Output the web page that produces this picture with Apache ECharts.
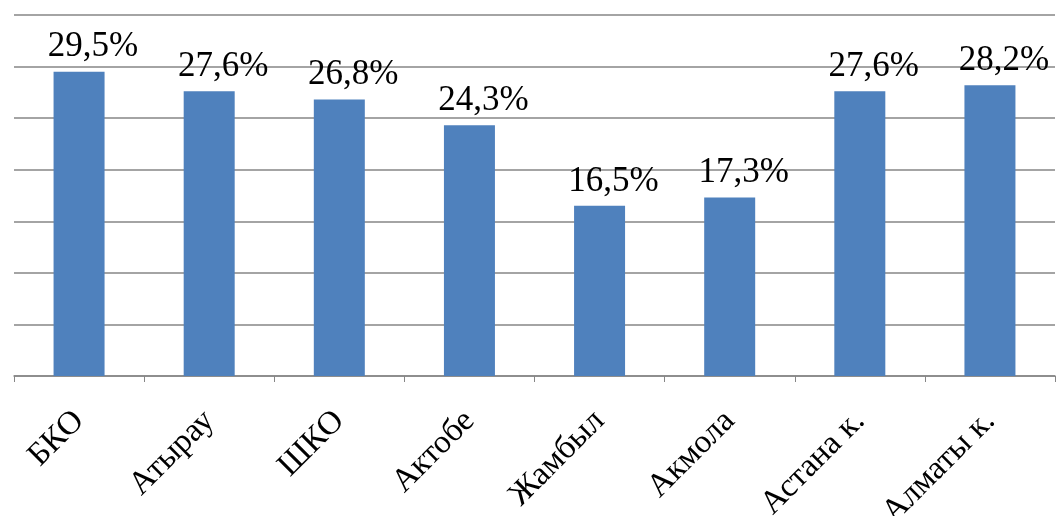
<!DOCTYPE html>
<html><head><meta charset="utf-8">
<script src="https://cdn.jsdelivr.net/npm/echarts@6/dist/echarts.min.js"></script>
<style>html,body{margin:0;padding:0;background:#fff}#c{width:1057px;height:516px}</style>
</head><body><div id="c"></div>
<script>
const categories = ['БКО','Атырау','ШКО','Актобе','Жамбыл','Акмола','Астана к.','Алматы к.'];
const values = [29.5, 27.6, 26.8, 24.3, 16.5, 17.3, 27.6, 28.2];
const yMin = 0, yMax = 35, yStep = 5;

const chart = echarts.init(document.getElementById('c'));
chart.setOption({
  animation: false,
  grid: {left: 14, right: 2, top: 15, bottom: 140, containLabel: false, outerBoundsMode: 'none'},
  xAxis: {
    type: 'category', data: categories,
    axisLine: {lineStyle: {color: '#868686', width: 1.5}},
    axisTick: {show: true, length: 6, lineStyle: {color: '#868686'}},
    axisLabel: {rotate: 45, margin: 40, fontFamily: 'Liberation Serif', fontSize: 33, color: '#000', interval: 0}
  },
  yAxis: {
    type: 'value', min: yMin, max: yMax, interval: yStep,
    axisLine: {show: false}, axisTick: {show: false}, axisLabel: {show: false},
    splitLine: {lineStyle: {color: '#868686', width: 1.5}}
  },
  series: [{
    type: 'bar', data: values, barWidth: 51,
    itemStyle: {color: '#4F81BD'},
    label: {show: true, position: 'top', distance: 7, offset: [14, 0], fontFamily: 'Liberation Serif', fontSize: 35, color: '#000',
      formatter: p => p.value.toFixed(1).replace('.', ',') + '%'}
  }]
});
</script></body></html>
